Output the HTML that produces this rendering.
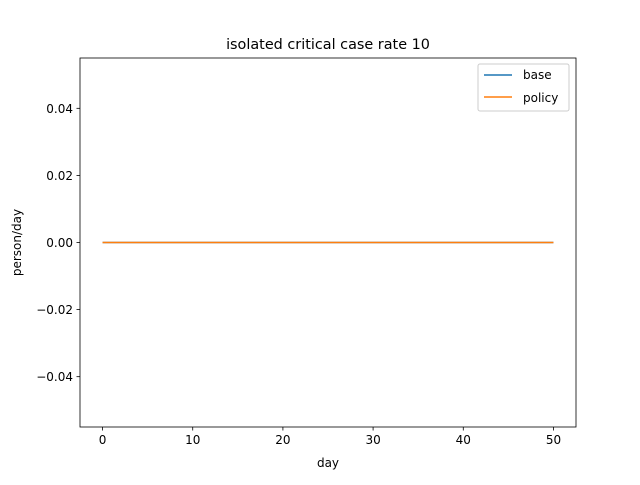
<!DOCTYPE html>
<html><head><meta charset="utf-8"><style>
body{margin:0;background:#fff}
svg text{font-family:"DejaVu Sans","Liberation Sans",sans-serif;fill:#000}
</style></head><body>
<svg id="chart" width="640" height="480" xmlns="http://www.w3.org/2000/svg">
<rect width="640" height="480" fill="#fff"/>
<text x="328" y="49" font-size="14.4" text-anchor="middle">isolated critical case rate 10</text>
<g id="grid"></g>
<g id="series"></g>
<rect x="80" y="58" width="496" height="369" fill="none" stroke="#000" stroke-width="0.8"/>
<text x="328" y="467" font-size="12" text-anchor="middle">day</text>
<text x="21" y="242.5" font-size="12" text-anchor="middle" transform="rotate(-90 21 242.5)">person/day</text>
<g>
<rect x="478" y="64" width="91" height="47" rx="2" fill="#fff" fill-opacity="0.8" stroke="#ccc" stroke-width="1"/>
<line x1="484" y1="75" x2="512" y2="75" stroke="#1f77b4" stroke-width="1.5"/>
<text x="523" y="79" font-size="12">base</text>
<line x1="484" y1="97" x2="512" y2="97" stroke="#ff7f0e" stroke-width="1.5"/>
<text x="523" y="102" font-size="12">policy</text>
</g>
</svg>
<script>
const days = Array.from({length:51},(_,i)=>i);
const baseValues = [0,0,0,0,0,0,0,0,0,0,0,0,0,0,0,0,0,0,0,0,0,0,0,0,0,0,0,0,0,0,0,0,0,0,0,0,0,0,0,0,0,0,0,0,0,0,0,0,0,0,0];
const policyValues = [0,0,0,0,0,0,0,0,0,0,0,0,0,0,0,0,0,0,0,0,0,0,0,0,0,0,0,0,0,0,0,0,0,0,0,0,0,0,0,0,0,0,0,0,0,0,0,0,0,0,0];
const xTicks = [0,10,20,30,40,50];
const yTicks = [-0.04,-0.02,0.00,0.02,0.04];
const yTickLabels = ["\u22120.04","\u22120.02","0.00","0.02","0.04"];
const L=80,R=576,T=58,B=427;
const xMin=-2.5,xMax=52.5,yMin=-0.055,yMax=0.055;
const xs=v=>L+(v-xMin)/(xMax-xMin)*(R-L);
const ys=v=>B-(v-yMin)/(yMax-yMin)*(B-T);
const NS="http://www.w3.org/2000/svg";
const g=document.getElementById('grid');
function mk(tag,attrs,parent){const e=document.createElementNS(NS,tag);for(const k in attrs)e.setAttribute(k,attrs[k]);parent.appendChild(e);return e;}
xTicks.forEach(t=>{
  const l=mk('line',{x1:xs(t),x2:xs(t),y1:B,y2:B+3.5,stroke:'#000','stroke-width':0.8},g);
  
  
  const tx=mk('text',{x:xs(t),y:B+17,'font-size':12,'text-anchor':'middle'},g);
  tx.textContent=String(t);
  
  
});
yTicks.forEach((t,i)=>{
  const l=mk('line',{x1:L-3.5,x2:L,y1:ys(t),y2:ys(t),stroke:'#000','stroke-width':0.8},g);
  
  
  const tx=mk('text',{x:L-7,y:ys(t)+4.5,'font-size':12,'text-anchor':'end'},g);
  tx.textContent=yTickLabels[i];
  
  
});
const s=document.getElementById('series');
function line(vals,color,name){
  const p=mk('polyline',{points:days.map((d,i)=>xs(d)+','+ys(vals[i])).join(' '),fill:'none',stroke:color,'stroke-width':1.5},s);
  
  
}
line(baseValues,'#1f77b4','base-line');
line(policyValues,'#ff7f0e','policy-line');
</script>
</body></html>
